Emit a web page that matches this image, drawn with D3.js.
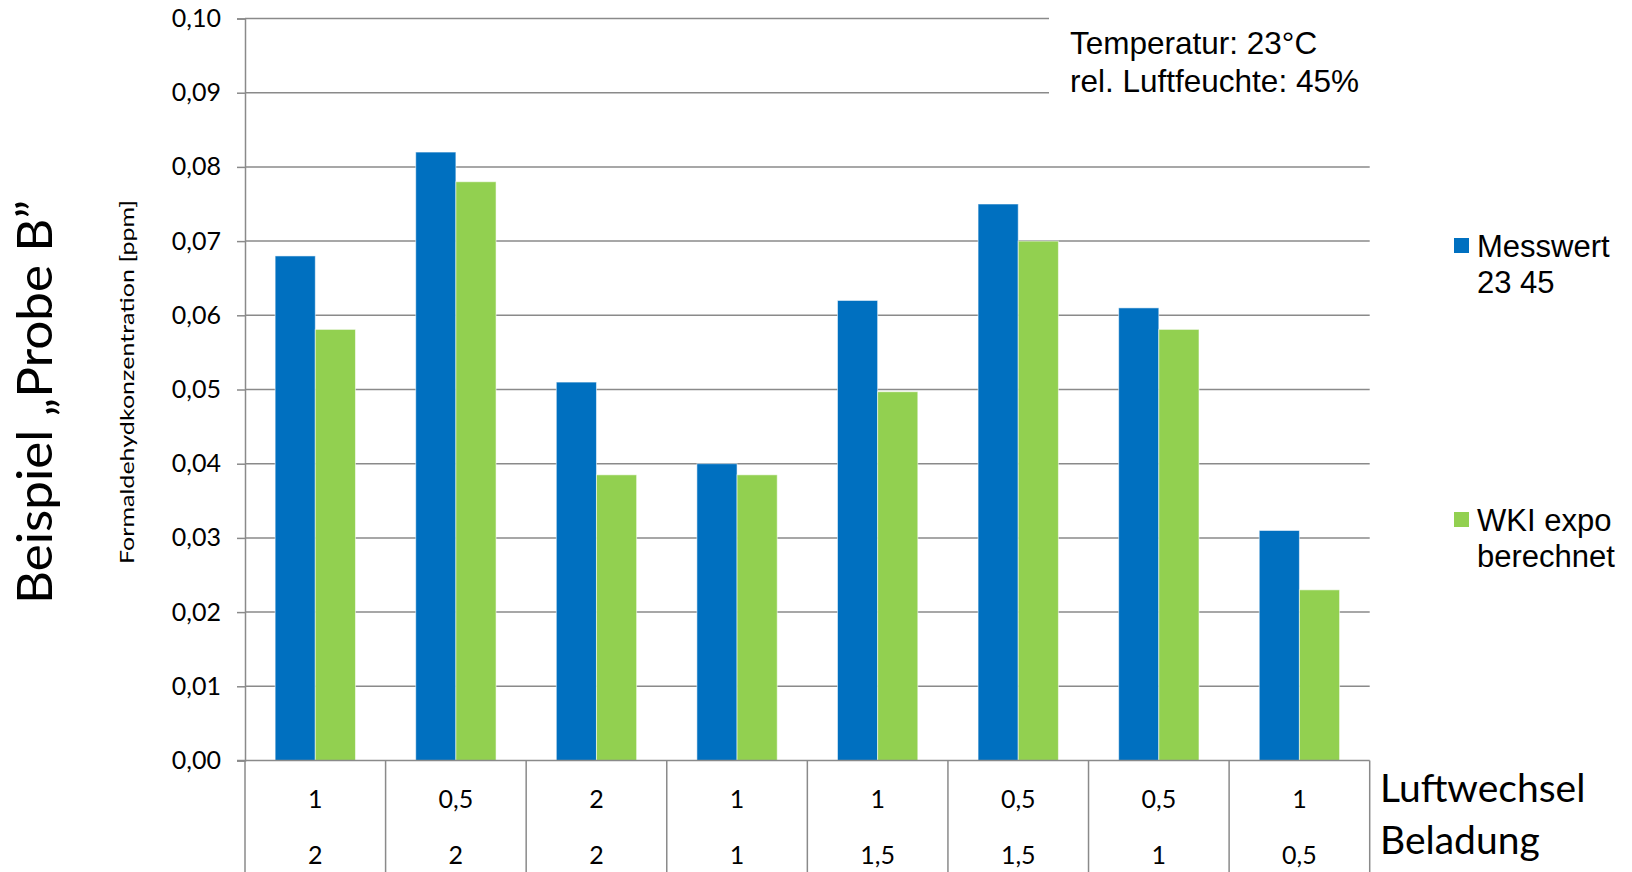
<!DOCTYPE html>
<html>
<head>
<meta charset="utf-8">
<script src="https://cdn.jsdelivr.net/npm/d3@7"></script>
<style>
  html, body { margin: 0; padding: 0; background: #fff; }
  svg { display: block; overflow: hidden; }
</style>
</head>
<body>
<svg id="chart" width="1632" height="872"></svg>
<script>
// Formaldehyde concentration: measured vs. WKI exponential model
const luftwechsel = ["1", "0,5", "2", "1", "1", "0,5", "0,5", "1"];
const beladung    = ["2", "2", "2", "1", "1,5", "1,5", "1", "0,5"];
const seriesNames = ["Messwert 23 45", "WKI expo berechnet"];
const messwert    = [0.068, 0.082, 0.051, 0.040, 0.062, 0.075, 0.061, 0.031];
const wkiExpo     = [0.0581, 0.078, 0.0385, 0.0385, 0.0497, 0.070, 0.0581, 0.023];
const yTicks      = [0, 0.01, 0.02, 0.03, 0.04, 0.05, 0.06, 0.07, 0.08, 0.09, 0.10];
const yTickLabels = ["0,00", "0,01", "0,02", "0,03", "0,04", "0,05", "0,06", "0,07", "0,08", "0,09", "0,10"];
const colors      = ["#0070C0", "#92D050"];

const svg = d3.select("#chart");
const W = 1632, H = 872;
const plot = { left: 245, right: 1369.7, top: 18.5, bottom: 760.5 };
const calibriLike = "Lato, 'Open Sans', sans-serif";
const arialLike = "'Liberation Sans', Arial, sans-serif";
const gridColor = "#8a8a8a";

const idx = d3.range(luftwechsel.length);
const x0 = d3.scaleBand().domain(idx).range([plot.left, plot.right]).paddingInner(0).paddingOuter(0);
const x1 = d3.scaleBand().domain([0, 1]).range([0, x0.bandwidth()]).paddingInner(0).paddingOuter(0.75);
const y = d3.scaleLinear().domain([0, 0.1]).range([plot.bottom, plot.top]);

// horizontal gridlines
svg.append("g")
  .selectAll("line")
  .data(yTicks.filter(d => d > 0))
  .join("line")
  .attr("x1", plot.left).attr("x2", plot.right)
  .attr("y1", d => y(d)).attr("y2", d => y(d))
  .attr("stroke", gridColor).attr("stroke-width", 1.5);

// white box carrying the climate note
svg.append("rect")
  .attr("x", 1049).attr("y", 0)
  .attr("width", W - 1049).attr("height", 125)
  .attr("fill", "#fff");

svg.append("g")
  .attr("font-family", arialLike)
  .attr("font-size", 31.5)
  .attr("fill", "#000")
  .selectAll("text")
  .data(["Temperatur: 23°C", "rel. Luftfeuchte: 45%"])
  .join("text")
  .attr("x", 1070)
  .attr("y", (d, i) => 54 + i * 37.5)
  .text(d => d);

// bars
const groups = svg.append("g")
  .selectAll("g")
  .data(idx)
  .join("g")
  .attr("transform", i => `translate(${x0(i)},0)`);

groups.selectAll("rect")
  .data(i => [messwert[i], wkiExpo[i]].map((v, s) => ({ v, s })))
  .join("rect")
  .attr("x", d => x1(d.s))
  .attr("width", x1.bandwidth())
  .attr("y", d => y(d.v))
  .attr("height", d => y(0) - y(d.v))
  .attr("fill", d => colors[d.s])
  .attr("stroke", "rgba(255,255,255,0.55)")
  .attr("stroke-width", 1);

// y axis
const yAxis = d3.axisLeft(y)
  .tickValues(yTicks)
  .tickSize(8)
  .tickPadding(16)
  .tickFormat((d, i) => yTickLabels[i]);

const gy = svg.append("g")
  .attr("transform", `translate(${plot.left},0)`)
  .call(yAxis);
gy.select(".domain").attr("stroke", gridColor).attr("stroke-width", 1.5);
gy.selectAll(".tick line").attr("stroke", gridColor).attr("stroke-width", 1.5);
gy.selectAll(".tick text")
  .attr("font-family", calibriLike)
  .attr("font-size", 25)
  .attr("fill", "#000");

// x axis baseline and category table
svg.append("line")
  .attr("x1", plot.left - 8).attr("x2", plot.right)
  .attr("y1", plot.bottom).attr("y2", plot.bottom)
  .attr("stroke", gridColor).attr("stroke-width", 1.5);

svg.append("g")
  .selectAll("line")
  .data(d3.range(luftwechsel.length + 1))
  .join("line")
  .attr("x1", i => i < luftwechsel.length ? x0(i) : plot.right)
  .attr("x2", i => i < luftwechsel.length ? x0(i) : plot.right)
  .attr("y1", plot.bottom).attr("y2", H)
  .attr("stroke", gridColor).attr("stroke-width", 1.5);

const rows = [luftwechsel, beladung];
const rowBaselines = [808, 864];
rows.forEach((row, r) => {
  svg.append("g")
    .attr("font-family", calibriLike)
    .attr("font-size", 25)
    .attr("text-anchor", "middle")
    .selectAll("text")
    .data(row)
    .join("text")
    .attr("x", (d, i) => x0(i) + x0.bandwidth() / 2)
    .attr("y", rowBaselines[r])
    .text(d => d);
});

svg.append("g")
  .attr("font-family", calibriLike)
  .attr("font-size", 39)
  .selectAll("text")
  .data(["Luftwechsel", "Beladung"])
  .join("text")
  .attr("x", 1380)
  .attr("y", (d, i) => [802, 854][i])
  .text(d => d);

// axis titles
svg.append("text")
  .attr("transform", "translate(134,382) rotate(-90)")
  .attr("text-anchor", "middle")
  .attr("font-family", calibriLike)
  .attr("font-size", 19.5)
  .attr("textLength", 364)
  .attr("lengthAdjust", "spacingAndGlyphs")
  .text("Formaldehydkonzentration [ppm]");

svg.append("text")
  .attr("transform", "translate(52,402) rotate(-90)")
  .attr("text-anchor", "middle")
  .attr("font-family", calibriLike)
  .attr("font-size", 49)
  .attr("textLength", 404)
  .attr("lengthAdjust", "spacingAndGlyphs")
  .text("Beispiel „Probe B”");

// legend
const legendNames = [["Messwert", "23 45"], ["WKI expo", "berechnet"]];
const legendTop = [238, 512];
const lg = svg.append("g").attr("font-family", arialLike).attr("font-size", 31);
legendNames.forEach((lines, s) => {
  lg.append("rect")
    .attr("x", 1454).attr("y", legendTop[s])
    .attr("width", 15).attr("height", 15)
    .attr("fill", colors[s]);
  lg.append("g")
    .selectAll("text")
    .data(lines)
    .join("text")
    .attr("x", 1477)
    .attr("y", (d, i) => legendTop[s] + 19 + i * 36)
    .text(d => d);
});
</script>
</body>
</html>
